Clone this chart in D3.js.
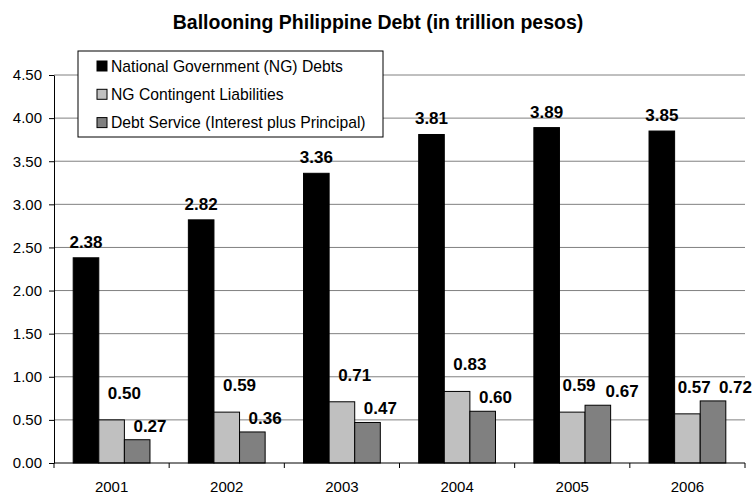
<!DOCTYPE html>
<html>
<head>
<meta charset="utf-8">
<script src="https://cdn.jsdelivr.net/npm/d3@7"></script>
<style>
  body { margin: 0; background: #fff; }
  svg { display: block; font-family: "Liberation Sans", Arial, sans-serif; }
  .tick text { font-size: 15px; fill: #000; }
  .valueLabel { font-size: 17px; font-weight: bold; fill: #000; }
</style>
</head>
<body>
<div id="chart"></div>
<script>
// data vars
const years = ["2001", "2002", "2003", "2004", "2005", "2006"];
const seriesNames = [
  "National Government (NG) Debts",
  "NG Contingent Liabilities",
  "Debt Service (Interest plus Principal)"
];
const ngDebts = [2.38, 2.82, 3.36, 3.81, 3.89, 3.85];
const contingent = [0.50, 0.59, 0.71, 0.83, 0.59, 0.57];
const debtService = [0.27, 0.36, 0.47, 0.60, 0.67, 0.72];
const yTicks = [0, 0.5, 1, 1.5, 2, 2.5, 3, 3.5, 4, 4.5];

// constants
const width = 752;
const height = 494;
const margin = { top: 75, right: 7, bottom: 31, left: 54 };
const colors = ["#000000", "#c0c0c0", "#808080"];
// label placement per series: gap above bar, anchor at bar centre (0.5) or right edge (1)
const labelGap = [10, 21, 8];
const labelAnchor = [0.5, 1, 1];

const seriesValues = [ngDebts, contingent, debtService];

const rows = [];
years.forEach((yr, i) => {
  seriesValues.forEach((vals, s) => {
    rows.push({ year: yr, series: s, value: vals[i] });
  });
});

const svg = d3.select("#chart")
  .append("svg")
  .attr("width", width)
  .attr("height", height);

const x = d3.scaleBand()
  .domain(years)
  .range([margin.left, width - margin.right])
  .padding(0);

// Excel style gap width of 150%
const barW = x.bandwidth() / 4.5;
const groupOffset = (x.bandwidth() - 3 * barW) / 2;

const y = d3.scaleLinear()
  .domain([0, 4.5])
  .range([height - margin.bottom, margin.top]);

// title
svg.append("text")
  .attr("x", 378)
  .attr("y", 28.5)
  .attr("text-anchor", "middle")
  .style("font-size", "19.5px")
  .style("font-weight", "bold")
  .text("Ballooning Philippine Debt (in trillion pesos)");

// gridlines
svg.append("g")
  .selectAll("line")
  .data(yTicks.filter(t => t > 0))
  .join("line")
  .attr("x1", margin.left)
  .attr("x2", width - margin.right)
  .attr("y1", d => y(d))
  .attr("y2", d => y(d))
  .attr("stroke", "#808080")
  .attr("stroke-width", 1);

// y axis
svg.append("g")
  .attr("transform", `translate(${margin.left},0)`)
  .call(d3.axisLeft(y).tickValues(yTicks).tickFormat(d3.format(".2f")).tickSize(5).tickSizeOuter(0).tickPadding(7))
  .call(g => g.select(".domain").attr("stroke", "#000"))
  .call(g => g.selectAll(".tick line").attr("stroke", "#000"))
  .call(g => g.selectAll(".tick text").style("font-family", "Liberation Sans, Arial, sans-serif"));

// bars
svg.append("g")
  .selectAll("rect")
  .data(rows)
  .join("rect")
  .attr("x", d => x(d.year) + groupOffset + d.series * barW)
  .attr("y", d => y(d.value))
  .attr("width", barW)
  .attr("height", d => y(0) - y(d.value))
  .attr("fill", d => colors[d.series])
  .attr("stroke", "#000")
  .attr("stroke-width", 1);

// x axis
const boundaries = years.map(yr => x(yr)).concat([width - margin.right]);
const xAxis = svg.append("g");
xAxis.append("line")
  .attr("x1", margin.left)
  .attr("x2", width - margin.right)
  .attr("y1", y(0))
  .attr("y2", y(0))
  .attr("stroke", "#000");
xAxis.selectAll("line.tk")
  .data(boundaries)
  .join("line")
  .attr("class", "tk")
  .attr("x1", d => d)
  .attr("x2", d => d)
  .attr("y1", y(0))
  .attr("y2", y(0) + 5)
  .attr("stroke", "#000");
xAxis.selectAll("text")
  .data(years)
  .join("text")
  .attr("x", d => x(d) + x.bandwidth() / 2)
  .attr("y", 492)
  .attr("text-anchor", "middle")
  .style("font-size", "15px")
  .text(d => d);

// value labels
rows.forEach(d => {
  d.lx = x(d.year) + groupOffset + d.series * barW + barW * labelAnchor[d.series];
  d.ly = y(d.value) - labelGap[d.series];
});

const labels = svg.append("g")
  .selectAll("text")
  .data(rows)
  .join("text")
  .attr("class", "valueLabel")
  .attr("text-anchor", "middle")
  .text(d => d.value.toFixed(2));

// measure, then push apart the two grey labels where they collide
labels.each(function(d) { d.w = this.getComputedTextLength(); });
years.forEach(yr => {
  const a = rows.find(r => r.year === yr && r.series === 1);
  const b = rows.find(r => r.year === yr && r.series === 2);
  const vertOverlap = Math.abs(a.ly - b.ly) < 13;
  const minDist = (a.w + b.w) / 2 + 10;
  if (vertOverlap && b.lx - a.lx < minDist) {
    a.lx -= 6;
    b.lx = a.lx + minDist;
  }
  // keep inside the picture
  b.lx = Math.min(b.lx, width - b.w / 2);
});

labels
  .attr("x", d => d.lx)
  .attr("y", d => d.ly);

// legend
const legend = svg.append("g").attr("transform", "translate(78,51)");
legend.append("rect")
  .attr("width", 305)
  .attr("height", 86)
  .attr("fill", "#fff")
  .attr("stroke", "#000");
const items = legend.selectAll("g")
  .data(seriesNames)
  .join("g")
  .attr("transform", (d, i) => `translate(19,${15 + i * 28.3})`);
items.append("rect")
  .attr("x", 0)
  .attr("y", -5)
  .attr("width", 10)
  .attr("height", 10)
  .attr("fill", (d, i) => colors[i])
  .attr("stroke", "#000");
items.append("text")
  .attr("x", 14)
  .attr("y", 5.5)
  .style("font-size", "15.7px")
  .text(d => d);
</script>
</body>
</html>
